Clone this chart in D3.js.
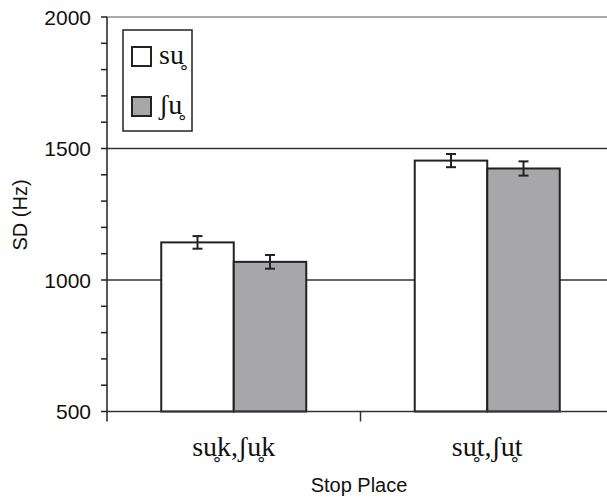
<!DOCTYPE html>
<html>
<head>
<meta charset="utf-8">
<script src="https://cdn.jsdelivr.net/npm/d3@7"></script>
<style>
  body { margin: 0; background: #fff; }
  .sans { font-family: "Liberation Sans", Arial, sans-serif; }
  .serif { font-family: "Liberation Serif", "Times New Roman", serif; }
</style>
</head>
<body>
<div id="plot"></div>
<script>
// Width and height
const w = 607;
const h = 498;
const margin = {top: 17, right: -7, bottom: 86.5, left: 107};
const innerHeight = h - margin.top - margin.bottom;
const innerWidth = w - margin.left - margin.right;

// data
const categories = ["su\u0325k,\u0283u\u0325k", "su\u0325t,\u0283u\u0325t"];
const seriesNames = ["su\u0325", "\u0283u\u0325"];
const seriesColors = ["#ffffff", "#a7a7a9"];
const means = [[1143, 1069], [1454, 1424]];
const errors = [[24, 26], [25, 27]];
const yTicks = [500, 1000, 1500, 2000];
const yMinorTicks = [600, 700, 800, 900, 1100, 1200, 1300, 1400, 1600, 1700, 1800, 1900];

const svg = d3.select("div#plot")
  .append("svg")
    .attr("width", w)
    .attr("height", h);

const g = svg.append("g")
  .attr("transform", `translate(${margin.left}, ${margin.top})`);

const xScale = d3.scaleBand()
  .domain(categories)
  .range([0, innerWidth]);

const xSub = d3.scaleBand()
  .domain(seriesNames)
  .range([0, xScale.bandwidth() * 0.572]);

const yScale = d3.scaleLinear()
  .domain([500, 2000])
  .range([innerHeight, 0]);

// gridlines
g.selectAll("line.grid")
  .data(yTicks.filter(d => d > 500))
  .enter()
  .append("line")
    .attr("class", "grid")
    .attr("x1", 0)
    .attr("x2", innerWidth)
    .attr("y1", d => yScale(d))
    .attr("y2", d => yScale(d))
    .attr("stroke", d => d == 2000 ? "#8c8c8c" : "#333")
    .attr("stroke-width", 1.5);

// bars
const groups = g.selectAll("g.group")
  .data(categories)
  .enter()
  .append("g")
    .attr("class", "group")
    .attr("transform", d => `translate(${xScale(d) + (xScale.bandwidth() - xSub.range()[1]) / 2}, 0)`);

groups.selectAll("rect")
  .data((d, i) => seriesNames.map((s, j) => ({s: s, v: means[i][j], e: errors[i][j], c: seriesColors[j]})))
  .enter()
  .append("rect")
    .attr("x", d => xSub(d.s))
    .attr("y", d => yScale(d.v))
    .attr("width", xSub.bandwidth())
    .attr("height", d => innerHeight - yScale(d.v))
    .attr("fill", d => d.c)
    .attr("stroke", "#222")
    .attr("stroke-width", 2);

// error bars
const eb = groups.selectAll("g.err")
  .data((d, i) => seriesNames.map((s, j) => ({s: s, v: means[i][j], e: errors[i][j]})))
  .enter()
  .append("g")
    .attr("class", "err")
    .attr("stroke", "#222")
    .attr("stroke-width", 2);

eb.append("line")
  .attr("x1", d => xSub(d.s) + xSub.bandwidth() / 2)
  .attr("x2", d => xSub(d.s) + xSub.bandwidth() / 2)
  .attr("y1", d => yScale(d.v + d.e))
  .attr("y2", d => yScale(d.v - d.e));
eb.selectAll("line.cap")
  .data(d => [d.v + d.e, d.v - d.e].map(y => ({x: xSub(d.s) + xSub.bandwidth() / 2, y: y})))
  .enter()
  .append("line")
    .attr("class", "cap")
    .attr("x1", d => d.x - 5)
    .attr("x2", d => d.x + 5)
    .attr("y1", d => yScale(d.y))
    .attr("y2", d => yScale(d.y));

// y axis
g.append("line")
  .attr("x1", 0).attr("x2", 0)
  .attr("y1", 0).attr("y2", innerHeight + 10)
  .attr("stroke", "#222")
  .attr("stroke-width", 1.5);

g.selectAll("line.minor")
  .data(yMinorTicks.concat(yTicks))
  .enter()
  .append("line")
    .attr("x1", -6).attr("x2", 0)
    .attr("y1", d => yScale(d))
    .attr("y2", d => yScale(d))
    .attr("stroke", "#222")
    .attr("stroke-width", 1.5);

g.selectAll("text.ytick")
  .data(yTicks)
  .enter()
  .append("text")
    .attr("class", "sans")
    .attr("x", -16)
    .attr("y", d => yScale(d))
    .attr("dy", "0.36em")
    .attr("text-anchor", "end")
    .style("font-size", "21px")
    .attr("fill", "#111")
    .text(d => d);

// x axis
g.append("line")
  .attr("x1", 0).attr("x2", innerWidth)
  .attr("y1", innerHeight).attr("y2", innerHeight)
  .attr("stroke", "#333")
  .attr("stroke-width", 1.5);

g.selectAll("line.xtick")
  .data(categories.slice(1))
  .enter()
  .append("line")
    .attr("x1", d => xScale(d)).attr("x2", d => xScale(d))
    .attr("y1", innerHeight).attr("y2", innerHeight + 10)
    .attr("stroke", "#333")
    .attr("stroke-width", 1.5);

g.selectAll("text.xtick")
  .data(categories)
  .enter()
  .append("text")
    .attr("class", "serif")
    .attr("x", d => xScale(d) + xScale.bandwidth() / 2)
    .attr("y", innerHeight + 44)
    .attr("text-anchor", "middle")
    .style("font-size", "28px")
    .attr("fill", "#111")
    .text(d => d);

// axis labels
svg.append("text")
  .attr("class", "sans")
  .attr("x", 359)
  .attr("y", 492)
  .attr("text-anchor", "middle")
  .style("font-size", "20px")
  .attr("fill", "#111")
  .text("Stop Place");

svg.append("text")
  .attr("class", "sans")
  .attr("transform", "rotate(-90)")
  .attr("x", -215)
  .attr("y", 27)
  .attr("text-anchor", "middle")
  .style("font-size", "20px")
  .attr("fill", "#111")
  .text("SD (Hz)");

// legend
const legend = svg.append("g")
  .attr("transform", "translate(123, 30)");
legend.append("rect")
  .attr("width", 69)
  .attr("height", 101)
  .attr("fill", "#fff")
  .attr("stroke", "#222")
  .attr("stroke-width", 1.5);
const items = legend.selectAll("g.item")
  .data(seriesNames)
  .enter()
  .append("g")
    .attr("transform", (d, i) => `translate(9, ${17 + i * 50})`);
items.append("rect")
  .attr("width", 19)
  .attr("height", 19)
  .attr("fill", (d, i) => seriesColors[i])
  .attr("stroke", "#222")
  .attr("stroke-width", 2);
items.append("text")
  .attr("class", "serif")
  .attr("x", 27)
  .attr("y", 17)
  .style("font-size", "28px")
  .attr("fill", "#111")
  .text(d => d);
</script>
</body>
</html>
